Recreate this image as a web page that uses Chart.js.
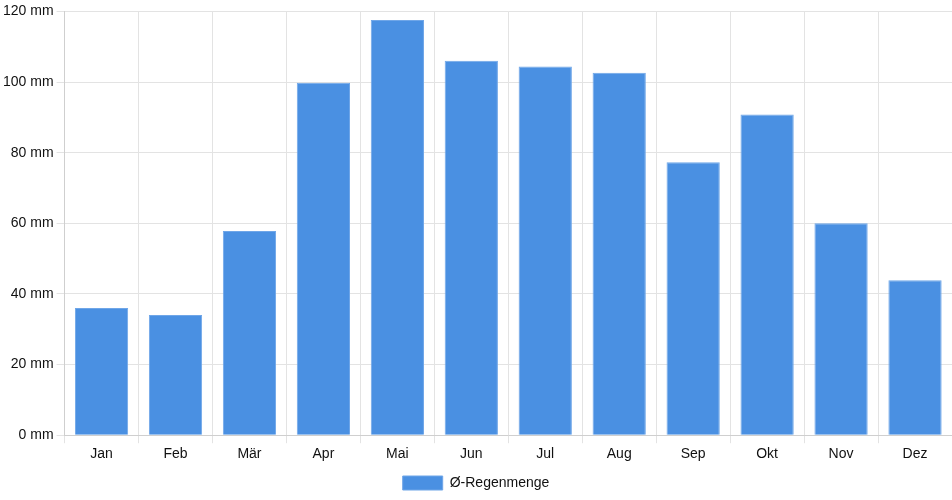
<!DOCTYPE html>
<html>
<head>
<meta charset="utf-8">
<script src="https://cdn.jsdelivr.net/npm/chart.js@4/dist/chart.umd.min.js"></script>
<style>
    html, body { margin: 0; padding: 0; background: #fff; }
    #wrap { width: 952px; height: 500px; }
</style>
</head>
<body>
<div id="wrap"><canvas id="rainChart"></canvas></div>
<script>
var months = ['Jan', 'Feb', 'Mär', 'Apr', 'Mai', 'Jun', 'Jul', 'Aug', 'Sep', 'Okt', 'Nov', 'Dez'];
var rainfall = [36, 34, 57.8, 99.8, 117.6, 106, 104.4, 102.6, 77.3, 90.8, 60, 43.9];
var seriesLabel = 'Ø-Regenmenge';

Chart.defaults.font.family = '"Liberation Sans", Arial, sans-serif';
Chart.defaults.font.size = 14;
Chart.defaults.color = '#111';

new Chart(document.getElementById('rainChart'), {
    type: 'bar',
    data: {
        labels: months,
        datasets: [{
            label: seriesLabel,
            data: rainfall,
            backgroundColor: '#4a90e2',
            borderColor: '#6fa6e8',
            borderWidth: 1
        }]
    },
    options: {
        responsive: true,
        maintainAspectRatio: false,
        animation: false,
        layout: { padding: { top: 6, right: 0, bottom: 0, left: 0 } },
        plugins: {
            legend: {
                position: 'bottom',
                labels: { boxWidth: 40, boxHeight: 14, padding: 10 }
            },
            tooltip: { enabled: false }
        },
        scales: {
            y: {
                beginAtZero: true,
                min: 0,
                max: 120,
                ticks: { stepSize: 20, callback: function(v) { return v + ' mm'; } },
                grid: { color: '#e3e3e3' },
                border: { color: '#cfcfcf' }
            },
            x: {
                grid: { color: '#e3e3e3' },
                border: { color: '#cfcfcf' }
            }
        }
    }
});
</script>
</body>
</html>
